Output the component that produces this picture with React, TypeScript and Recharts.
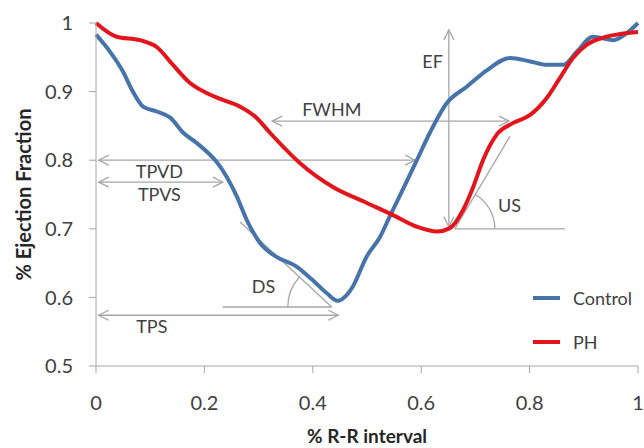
import React from 'react';
import { LineChart, Line, XAxis, YAxis, ReferenceLine, ReferenceDot, Legend, Label } from 'recharts';

// Control series (% R-R interval, % ejection fraction)
const controlRR = [0, 0.026, 0.05, 0.068, 0.087, 0.112, 0.137, 0.161, 0.186, 0.205, 0.222, 0.241, 0.26, 0.278, 0.303, 0.333, 0.37, 0.4, 0.426, 0.446, 0.462, 0.474, 0.499, 0.524, 0.542, 0.566, 0.592, 0.616, 0.647, 0.684, 0.721, 0.764, 0.801, 0.832, 0.862, 0.887, 0.917, 0.954, 0.979, 1.0];
const controlEF = [0.983, 0.958, 0.929, 0.9, 0.878, 0.871, 0.862, 0.84, 0.825, 0.812, 0.798, 0.776, 0.747, 0.713, 0.679, 0.659, 0.645, 0.625, 0.606, 0.595, 0.603, 0.616, 0.659, 0.688, 0.718, 0.757, 0.8, 0.84, 0.883, 0.907, 0.931, 0.949, 0.944, 0.939, 0.939, 0.958, 0.98, 0.975, 0.985, 1.0];

// PH series
const phRR = [0, 0.038, 0.081, 0.112, 0.142, 0.173, 0.204, 0.234, 0.266, 0.296, 0.321, 0.376, 0.437, 0.499, 0.548, 0.592, 0.629, 0.653, 0.677, 0.696, 0.714, 0.739, 0.769, 0.801, 0.832, 0.856, 0.88, 0.905, 0.942, 0.967, 1.0];
const phEF = [1.0, 0.98, 0.975, 0.965, 0.939, 0.913, 0.898, 0.888, 0.878, 0.862, 0.84, 0.796, 0.761, 0.738, 0.72, 0.703, 0.696, 0.701, 0.727, 0.761, 0.8, 0.837, 0.854, 0.866, 0.891, 0.92, 0.949, 0.968, 0.98, 0.984, 0.987];

const xTicks = [0, 0.2, 0.4, 0.6, 0.8, 1];
const yTicks = [0.5, 0.6, 0.7, 0.8, 0.9, 1];

// Annotation arrows (data coordinates)
const arrowSegments = [
  { id: 'FWHM', x1: 0.325, y1: 0.857, x2: 0.762, y2: 0.857 },
  { id: 'TPVD', x1: 0.005, y1: 0.8, x2: 0.589, y2: 0.8 },
  { id: 'TPVS', x1: 0.005, y1: 0.768, x2: 0.234, y2: 0.768 },
  { id: 'TPS', x1: 0.005, y1: 0.574, x2: 0.447, y2: 0.574 },
  { id: 'EF', x1: 0.651, y1: 0.703, x2: 0.651, y2: 0.99 },
];

// Slope (tangent) annotations: vertex, tangent end, horizontal end
const slopeMarks = [
  { id: 'DS', vx: 0.435, vy: 0.586, tx: 0.266, ty: 0.71, hx: 0.234, side: -1, r: 44 },
  { id: 'US', vx: 0.662, vy: 0.7, tx: 0.764, ty: 0.835, hx: 0.865, side: 1, r: 40 },
];

const annotationLabels = [
  { text: 'FWHM', x: 0.435, y: 0.875 },
  { text: 'TPVD', x: 0.117, y: 0.784 },
  { text: 'TPVS', x: 0.117, y: 0.751 },
  { text: 'TPS', x: 0.103, y: 0.558 },
  { text: 'DS', x: 0.309, y: 0.616 },
  { text: 'US', x: 0.763, y: 0.734 },
  { text: 'EF', x: 0.621, y: 0.944 },
];

const controlData = controlRR.map((rr, i) => ({ rr, ef: controlEF[i] }));
const phData = phRR.map((rr, i) => ({ rr, ef: phEF[i] }));

const GRAY = '#a6a6a6';
const TEXT = '#404040';
const FONT = 'Lato, "Open Sans", sans-serif';

const arrowShape = (p: any) => {
  const x1 = Number(p.x1), y1 = Number(p.y1), x2 = Number(p.x2), y2 = Number(p.y2);
  const dx = x2 - x1, dy = y2 - y1;
  const len = Math.hypot(dx, dy) || 1;
  const ux = dx / len, uy = dy / len;
  const L = 10, W = 5;
  const head = (tx: number, ty: number, dx0: number, dy0: number) =>
    `M${tx - dx0 * L - dy0 * W},${ty - dy0 * L + dx0 * W} L${tx},${ty} L${tx - dx0 * L + dy0 * W},${ty - dy0 * L - dx0 * W}`;
  return (
    <g>
      <line x1={x1} y1={y1} x2={x2} y2={y2} stroke={GRAY} strokeWidth={1.3} />
      <path d={`${head(x2, y2, ux, uy)} ${head(x1, y1, -ux, -uy)}`} fill="none" stroke={GRAY} strokeWidth={1.3} />
    </g>
  );
};

const tangentShape = (side: number, r: number) => (p: any) => {
  const x1 = Number(p.x1), y1 = Number(p.y1), x2 = Number(p.x2), y2 = Number(p.y2);
  const dx = x2 - x1, dy = y2 - y1;
  const len = Math.hypot(dx, dy) || 1;
  const ux = dx / len, uy = dy / len;
  const sx = x1 + side * r, sy = y1;
  const ex = x1 + ux * r, ey = y1 + uy * r;
  const sweep = side * uy > 0 ? 1 : 0;
  return (
    <g>
      <line x1={x1} y1={y1} x2={x2} y2={y2} stroke={GRAY} strokeWidth={1.3} />
      <path d={`M${sx},${sy} A${r},${r} 0 0 ${sweep} ${ex},${ey}`} fill="none" stroke={GRAY} strokeWidth={1.3} />
    </g>
  );
};

const plainShape = (p: any) => (
  <line x1={p.x1} y1={p.y1} x2={p.x2} y2={p.y2} stroke={GRAY} strokeWidth={1.3} />
);

const renderLegend = (props: any) => {
  const payload = props.payload || [];
  return (
    <div style={{ fontFamily: FONT, fontSize: 18, color: TEXT }}>
      {payload.map((entry: any) => (
        <div key={entry.value} style={{ height: 44, display: 'flex', alignItems: 'center' }}>
          <span style={{ display: 'inline-block', width: 27, height: 4, background: entry.color, marginLeft: 5, marginRight: 13 }} />
          <span>{entry.value}</span>
        </div>
      ))}
    </div>
  );
};

export default function App() {
  return (
    <div style={{ position: 'absolute', left: 0, top: 0, background: '#fff' }}>
      <LineChart width={644} height={448} margin={{ top: 23, right: 6, left: 0, bottom: 0 }}>
        <XAxis
          dataKey="rr"
          type="number"
          domain={[0, 1]}
          ticks={xTicks}
          height={82}
          tickSize={7}
          tickMargin={23}
          stroke={GRAY}
          tick={{ fill: TEXT, fontSize: 20, fontFamily: FONT }}
        >
          <Label
            value="% R-R interval"
            position="insideBottom"
            offset={5}
            style={{ fontFamily: FONT, fontSize: 19, fontWeight: 700, fill: '#262626' }}
          />
        </XAxis>
        <YAxis
          type="number"
          domain={[0.5, 1]}
          ticks={yTicks}
          width={96}
          tickSize={7}
          tickMargin={16}
          stroke={GRAY}
          tick={{ fill: TEXT, fontSize: 20, fontFamily: FONT }}
        >
          <Label
            value="% Ejection Fraction"
            angle={-90}
            position="insideLeft"
            offset={24}
            style={{ textAnchor: 'middle', fontFamily: FONT, fontSize: 20, fontWeight: 700, fill: '#262626' }}
          />
        </YAxis>

        {arrowSegments.map((a) => (
          <ReferenceLine
            key={a.id}
            segment={[{ x: a.x1, y: a.y1 }, { x: a.x2, y: a.y2 }]}
            ifOverflow="visible"
            shape={arrowShape}
          />
        ))}
        {slopeMarks.map((s) => (
          <ReferenceLine
            key={s.id + '-h'}
            segment={[{ x: s.vx, y: s.vy }, { x: s.hx, y: s.vy }]}
            ifOverflow="visible"
            shape={plainShape}
          />
        ))}
        {slopeMarks.map((s) => (
          <ReferenceLine
            key={s.id + '-t'}
            segment={[{ x: s.vx, y: s.vy }, { x: s.tx, y: s.ty }]}
            ifOverflow="visible"
            shape={tangentShape(s.side, s.r)}
          />
        ))}
        {annotationLabels.map((l) => (
          <ReferenceDot
            key={l.text}
            x={l.x}
            y={l.y}
            r={0}
            ifOverflow="visible"
            shape={(p: any) => (
              <text
                x={p.cx}
                y={p.cy}
                textAnchor="middle"
                dominantBaseline="central"
                fontFamily={FONT}
                fontSize={18}
                fill={TEXT}
              >
                {l.text}
              </text>
            )}
          />
        ))}

        <Line
          data={controlData}
          dataKey="ef"
          name="Control"
          type="monotone"
          stroke="#4674aa"
          strokeWidth={4}
          dot={false}
          activeDot={false}
          isAnimationActive={false}
        />
        <Line
          data={phData}
          dataKey="ef"
          name="PH"
          type="monotone"
          stroke="#e3141b"
          strokeWidth={4}
          dot={false}
          activeDot={false}
          isAnimationActive={false}
        />
        <Legend
          layout="vertical"
          align="center"
          verticalAlign="middle"
          wrapperStyle={{ left: 528, top: 276, width: 116 }}
          content={renderLegend}
        />
      </LineChart>
    </div>
  );
}
